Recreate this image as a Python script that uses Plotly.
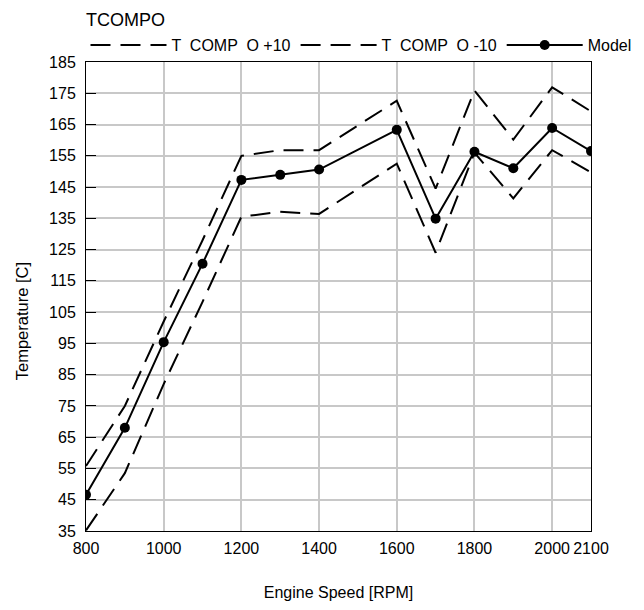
import plotly.graph_objects as go

rpm = [800, 900, 1000, 1100, 1200, 1300, 1400, 1600, 1700, 1800, 1900, 2000, 2100]
model = [46.6, 68.0, 95.4, 120.5, 147.3, 148.9, 150.6, 163.3, 134.9, 156.3, 151.0, 163.9, 156.5]
upper = [55.8, 75.0, 102.0, 128.0, 155.0, 156.8, 156.8, 172.6, 144.5, 175.9, 160.2, 176.9, 169.2]
lower = [35.2, 53.5, 82.0, 108.3, 135.5, 137.1, 136.4, 152.5, 124.0, 156.0, 141.4, 156.8, 149.7]
x_ticks = [800, 1000, 1200, 1400, 1600, 1800, 2000, 2100]
y_ticks = list(range(35, 186, 10))

FONT = "Liberation Sans, Arial, sans-serif"

fig = go.Figure()
fig.add_trace(go.Scatter(x=rpm, y=upper, mode="lines", name="T  COMP  O +10",
                         line=dict(color="black", width=2, dash="20px,10px")))
fig.add_trace(go.Scatter(x=rpm, y=lower, mode="lines", name="T  COMP  O -10",
                         line=dict(color="black", width=2, dash="20px,10px")))
fig.add_trace(go.Scatter(x=rpm, y=model, mode="lines+markers", name="Model",
                         line=dict(color="black", width=2),
                         marker=dict(color="black", size=10)))

fig.update_layout(
    width=644, height=610,
    margin=dict(l=86, r=53, t=62, b=74),
    paper_bgcolor="white", plot_bgcolor="white",
    font=dict(family=FONT, size=16, color="black"),
    title=dict(text="TCOMPO", x=86/644, xanchor="left", xref="container",
               y=1-20/610, yanchor="middle", yref="container",
               font=dict(family=FONT, size=18, color="black")),
    showlegend=True,
    legend=dict(orientation="h", x=-0.001, xanchor="left", y=1.036, yanchor="middle",
                font=dict(family=FONT, size=16, color="black"),
                itemwidth=76, tracegroupgap=0, bgcolor="rgba(0,0,0,0)"),
    xaxis=dict(range=[800, 2100], tickvals=x_ticks, ticktext=[str(v) for v in x_ticks],
               showgrid=True, gridcolor="#c8c8c8", gridwidth=2,
               showline=True, linecolor="black", linewidth=1, mirror=True,
               ticks="", zeroline=False, ticklabelstandoff=3,
               title=dict(text="Engine Speed [RPM]", standoff=30,
                          font=dict(family=FONT, size=16))),
    yaxis=dict(range=[35, 185], tickvals=y_ticks, ticktext=[str(v) for v in y_ticks],
               showgrid=True, gridcolor="#c8c8c8", gridwidth=2,
               showline=True, linecolor="black", linewidth=1, mirror=True,
               ticks="inside", ticklen=10, tickcolor="black", tickwidth=1,
               zeroline=False, ticklabelstandoff=6),
    annotations=[dict(text="Temperature [C]", textangle=-90, xref="paper", yref="paper",
                      x=(22-86)/505, y=(536-324)/474, xanchor="center", yanchor="middle",
                      showarrow=False, font=dict(family=FONT, size=16.5, color="black"))],
)

fig.write_html("out.html")
